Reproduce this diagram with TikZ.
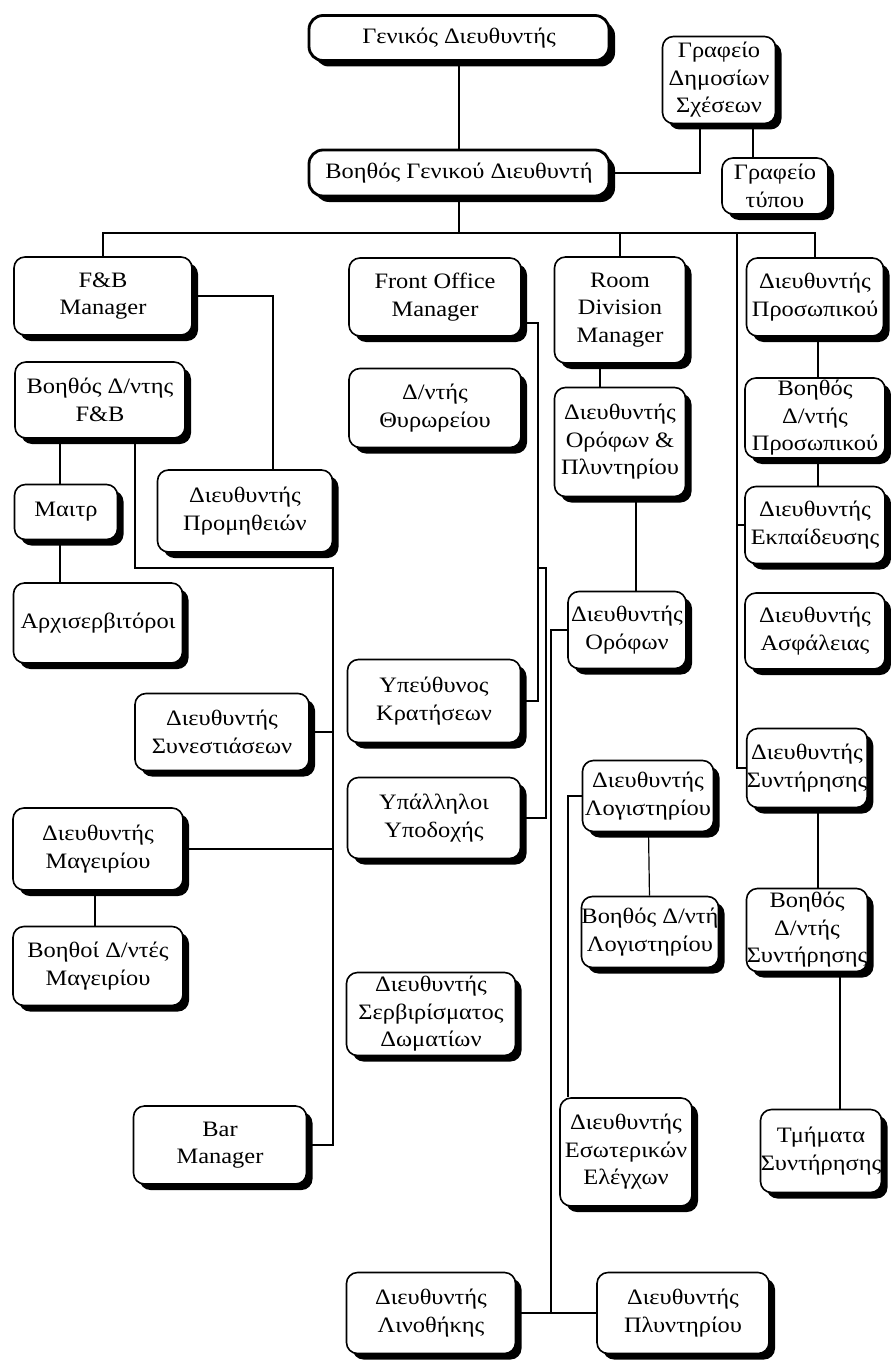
\documentclass[tikz,border=0pt]{standalone}
\usepackage{fontspec}
\setmainfont{Liberation Serif}[FakeStretch=1.11]
\usetikzlibrary{shadows}

\begin{document}
\begin{tikzpicture}
[x=1pt,y=-1pt,
box/.style={draw=black,line width=1.6pt,fill=white,rounded corners=11pt,align=center,inner sep=0pt,
  font=\fontsize{22}{27.5}\selectfont,
  drop shadow={shadow xshift=6pt,shadow yshift=-6pt,fill=black,opacity=1}},
headbox/.style={box,line width=2.8pt,rounded corners=14pt},
link/.style={draw=black,line width=1.2pt}]
\useasboundingbox (0,0) rectangle (891,1362);

\node[headbox,minimum width=300pt,minimum height=45pt] (gm) at (459,38) {Γενικός Διευθυντής};
\node[box,minimum width=113pt,minimum height=87pt] (pr) at (719,80) {Γραφείο\\Δημοσίων\\Σχέσεων};
\node[headbox,minimum width=300pt,minimum height=46pt] (bgm) at (459,173) {Βοηθός Γενικού Διευθυντή};
\node[box,minimum width=106pt,minimum height=56pt] (press) at (775,186) {Γραφείο\\τύπου};

\node[box,minimum width=178pt,minimum height=78pt] (fb) at (103,296) {F\&B\\Manager};
\node[box,minimum width=172pt,minimum height=78pt] (fo) at (435,297) {Front Office\\Manager};
\node[box,minimum width=131pt,minimum height=106pt] (rd) at (620,310) {Room\\Division\\Manager};
\node[box,minimum width=137pt,minimum height=78pt] (hr) at (815,297) {Διευθυντής\\Προσωπικού};

\node[box,minimum width=170pt,minimum height=76pt] (fbass) at (100,400) {Βοηθός Δ/ντης\\F\&B};
\node[box,minimum width=172pt,minimum height=79pt] (door) at (435,408) {Δ/ντής\\Θυρωρείου};
\node[box,minimum width=131pt,minimum height=109pt] (fl) at (620,442) {Διευθυντής\\Ορόφων \&\\Πλυντηρίου};
\node[box,minimum width=140pt,minimum height=80pt] (hrass) at (815,418) {Βοηθός\\Δ/ντής\\Προσωπικού};

\node[box,minimum width=103pt,minimum height=55pt] (maitre) at (66,512) {Μαιτρ};
\node[box,minimum width=175pt,minimum height=82pt] (supply) at (245,511) {Διευθυντής\\Προμηθειών};
\node[box,minimum width=140pt,minimum height=77pt] (train) at (815,525) {Διευθυντής\\Εκπαίδευσης};

\node[box,minimum width=169pt,minimum height=80pt] (headw) at (98,623) {Αρχισερβιτόροι};
\node[box,minimum width=118pt,minimum height=77pt] (floors) at (627,630) {Διευθυντής\\Ορόφων};
\node[box,minimum width=140pt,minimum height=76pt] (sec) at (815,631) {Διευθυντής\\Ασφάλειας};

\node[box,minimum width=173pt,minimum height=83pt] (resv) at (434,701) {Υπεύθυνος\\Κρατήσεων};
\node[box,minimum width=174pt,minimum height=77pt] (banq) at (222,732) {Διευθυντής\\Συνεστιάσεων};
\node[box,minimum width=118pt,minimum height=79pt] (maint) at (807,768) {Διευθυντής\\Συντήρησης};
\node[box,minimum width=131pt,minimum height=71pt] (acc) at (648,796) {Διευθυντής\\Λογιστηρίου};
\node[box,minimum width=173pt,minimum height=81pt] (recep) at (434,818) {Υπάλληλοι\\Υποδοχής};
\node[box,minimum width=170pt,minimum height=82pt] (kitchen) at (98,849) {Διευθυντής\\Μαγειρίου};

\node[box,minimum width=136pt,minimum height=71pt] (accass) at (650,932) {Βοηθός Δ/ντή\\Λογιστηρίου};
\node[box,minimum width=121pt,minimum height=83pt] (maintass) at (807,930) {Βοηθός\\Δ/ντής\\Συντήρησης};
\node[box,minimum width=170pt,minimum height=79pt] (kitass) at (98,966) {Βοηθοί Δ/ντές\\Μαγειρίου};
\node[box,minimum width=169pt,minimum height=83pt] (room) at (431,1014) {Διευθυντής\\Σερβιρίσματος\\Δωματίων};

\node[box,minimum width=173pt,minimum height=78pt] (bar) at (220,1145) {Bar\\Manager};
\node[box,minimum width=132pt,minimum height=108pt] (audit) at (626,1152) {Διευθυντής\\Εσωτερικών\\Ελέγχων};
\node[box,minimum width=121pt,minimum height=83pt] (maintdep) at (821,1151) {Τμήματα\\Συντήρησης};

\node[box,minimum width=169pt,minimum height=81pt] (linen) at (431,1313) {Διευθυντής\\Λινοθήκης};
\node[box,minimum width=172pt,minimum height=81pt] (laundry) at (683,1313) {Διευθυντής\\Πλυντηρίου};

% junction points
\coordinate (bus) at (459,233);
\coordinate (hrbus) at (737,233);
\coordinate (fol) at (538,323);
\coordinate (fob) at (538,568);
\coordinate (fbj) at (333,568);
\coordinate (lj) at (551,1313);

% top
\draw[link] (gm) -- (bgm);
\draw[link] (bgm.east) -| ([xshift=-19pt]pr.south);
\draw[link] ([xshift=34pt]pr.south) -- ([xshift=34pt]pr.south |- press.north);
\draw[link] (bgm) -- (bus);
\draw[link] (fb.north) |- (bus) -| (hr.north);
\draw[link] (rd.north) -- (rd.north |- bus);
\draw[link] (hrbus) |- (maint.west);
\draw[link] (train.west) -- (train.west -| hrbus);

% F&B
\draw[link] (fb.east) -| ([xshift=28pt]supply.north);
\draw[link] ([xshift=-40pt]fbass.south) -- ([xshift=-40pt]fbass.south |- maitre.north);
\draw[link] ([xshift=-6pt]maitre.south) -- ([xshift=-6pt]maitre.south |- headw.north);
\draw[link] ([xshift=35pt]fbass.south) |- (fbj) |- (bar.east);
\draw[link] (banq.east) -- (banq.east -| fbj);
\draw[link] (kitchen.east) -- (kitchen.east -| fbj);
\draw[link] ([xshift=-3pt]kitchen.south) -- ([xshift=-3pt]kitchen.south |- kitass.north);

% front office
\draw[link] ([yshift=-26pt]fo.east) -| (resv.east -| fol) -- (resv.east);
\draw[link] (fob) -- ++(8,0) |- (recep.east);

% rooms
\draw[link] ([xshift=-20pt]rd.south) -- ([xshift=-20pt]rd.south |- fl.north);
\draw[link] ([xshift=16pt]fl.south) -- ([xshift=16pt]fl.south |- floors.north);
\draw[link] (floors.west) -| (lj);
\draw[link] (linen.east) -- (laundry.west);
\draw[link] (acc.west) -| ([xshift=-58pt]audit.north);
\draw[link] (acc) -- (accass);

% personnel
\draw[link] ([xshift=3pt]hr.south) -- ([xshift=3pt]hr.south |- hrass.north);
\draw[link] ([xshift=3pt]hrass.south) -- ([xshift=3pt]hrass.south |- train.north);
\draw[link] ([xshift=11pt]maint.south) -- ([xshift=11pt]maint.south |- maintass.north);
\draw[link] ([xshift=33pt]maintass.south) -- ([xshift=33pt]maintass.south |- maintdep.north);
\end{tikzpicture}
\end{document}
